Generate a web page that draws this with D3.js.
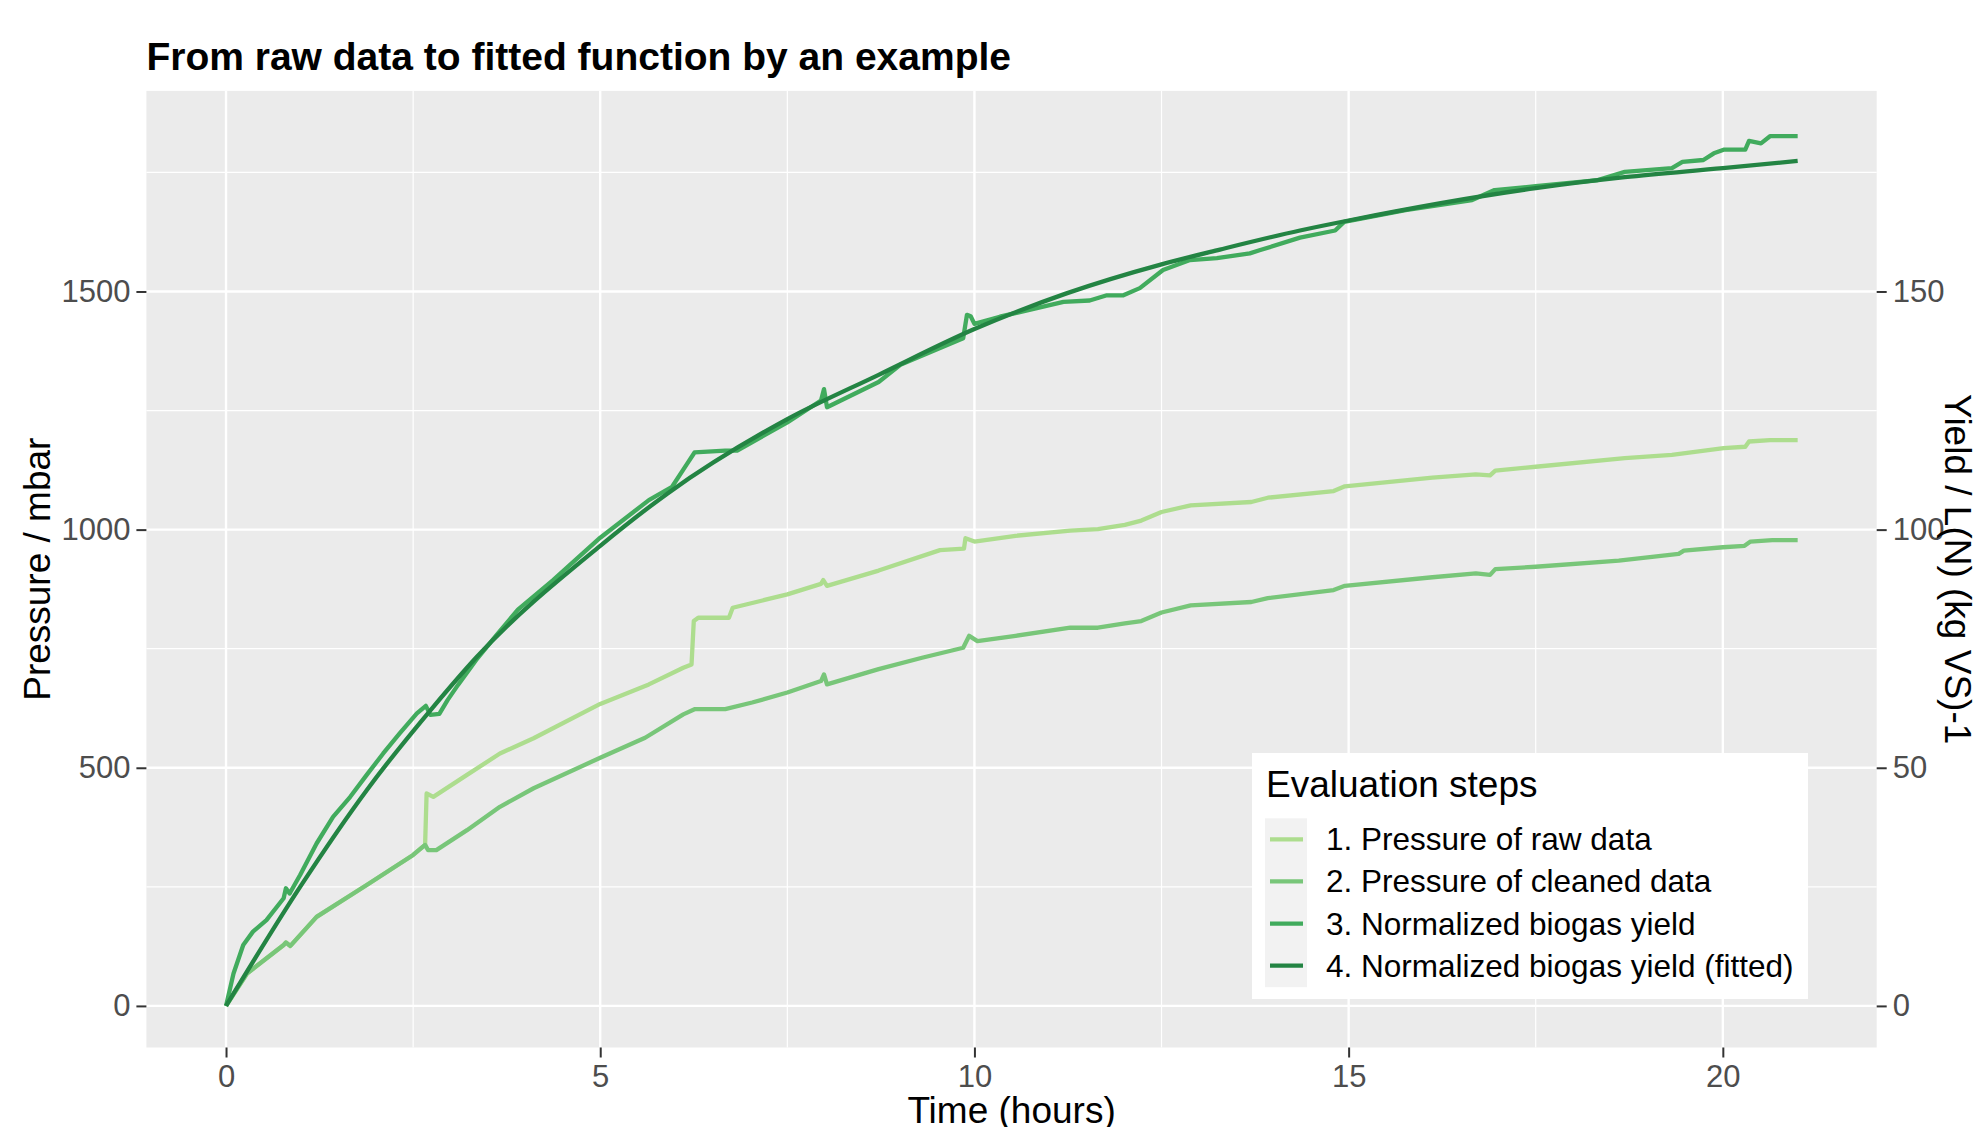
<!DOCTYPE html>
<html>
<head>
<meta charset="utf-8">
<script src="https://cdn.jsdelivr.net/npm/d3@7"></script>
<style>
  body { margin: 0; background: #fff; }
  text { font-family: "Liberation Sans", Arial, sans-serif; }
</style>
</head>
<body>
<script>
// values
var seriesNames = ["1. Pressure of raw data", "2. Pressure of cleaned data",
                   "3. Normalized biogas yield", "4. Normalized biogas yield (fitted)"];
var seriesColors = ["#ADDD8E", "#78C679", "#41AB5D", "#238443"];

var timeTicks = [0, 5, 10, 15, 20];
var pressureTicks = [0, 500, 1000, 1500];
var yieldTicks = [0, 50, 100, 150];

// 1. raw pressure (mbar)
var rawTime = [0,0.28,0.77,0.8,0.86,1.21,1.88,2.5,2.66,2.68,2.77,3.22,3.66,4.11,5.0,5.65,6.11,6.22,6.25,6.31,6.72,6.77,7.5,7.95,7.98,8.03,8.72,9.54,9.86,9.88,10.0,10.55,11.28,11.65,12.01,12.23,12.5,12.89,13.7,13.92,14.8,14.95,16.12,16.7,16.89,16.96,17.5,18.69,19.32,20.01,20.3,20.35,20.63,21.0];
var rawPressure = [0,68,128,133,126,187,254,317,338,446,439,485,530,562,634,675,710,717,808,815,815,836,864,886,894,882,914,957,960,982,975,987,998,1001,1010,1019,1037,1051,1058,1067,1081,1091,1109,1116,1114,1124,1132,1150,1157,1171,1174,1185,1188,1188];

// 2. cleaned pressure (mbar)
var cleanTime = [0,0.28,0.77,0.8,0.86,1.21,1.88,2.5,2.66,2.7,2.81,3.22,3.66,4.11,5.0,5.6,6.11,6.26,6.67,7.03,7.5,7.95,7.99,8.03,8.72,9.3,9.85,9.93,10.04,10.55,11.28,11.65,12.01,12.23,12.5,12.89,13.7,13.92,14.8,14.95,16.12,16.7,16.89,16.96,17.5,18.61,19.41,19.48,20.0,20.29,20.37,20.66,21.0];
var cleanPressure = [0,68,128,133,126,187,254,317,338,327,327,369,418,457,521,563,612,623,623,637,658,682,696,675,707,731,752,777,766,777,794,794,803,808,826,841,848,856,873,882,900,908,905,917,922,935,949,956,963,966,975,978,978];

// 3. normalized yield (L(N) per kg VS)
var yieldTime = [0,0.1,0.23,0.36,0.54,0.77,0.8,0.85,0.99,1.21,1.43,1.66,1.88,2.1,2.32,2.55,2.67,2.73,2.85,2.96,3.1,3.34,3.6,3.9,4.37,5.0,5.65,5.96,6.16,6.26,6.67,6.83,7.5,7.95,7.99,8.03,8.72,9.01,9.85,9.9,9.95,10.0,10.34,11.19,11.54,11.77,11.99,12.21,12.52,12.88,13.24,13.68,13.82,14.35,14.82,14.94,15.76,16.65,16.95,17.5,18.33,18.69,19.32,19.46,19.74,19.88,20.02,20.3,20.35,20.51,20.63,21.0];
var yieldValue = [0,6.8,12.8,15.6,18.0,22.6,24.7,23.6,27.5,34.1,39.7,43.9,48.5,53.0,57.2,61.4,63.0,61.1,61.3,64.2,67.4,72.6,77.6,83.2,89.4,98.3,106.2,109.0,113.8,116.2,116.6,116.6,122.5,127.1,129.5,125.7,131.0,134.6,140.2,145.1,144.8,143.2,144.7,147.8,148.1,149.2,149.2,150.7,154.5,156.6,157.0,158.0,158.7,161.3,162.8,164.6,167.1,169.2,171.3,172.1,173.4,175.1,175.9,177.2,177.6,179.0,179.8,179.8,181.6,181.1,182.6,182.6];

// 4. fitted yield
var fitTime = [0,0.99,1.88,2.77,3.34,5.0,5.9,7.5,8.72,10,11.23,12.5,13.28,14.35,15,17.5,18.69,20,21];
var fitValue = [0,25.0,45.3,62.8,73.1,96.6,107.6,123.2,132.5,142.1,149.6,155.7,158.8,162.8,164.9,171.7,174.0,175.9,177.4];

var W = 1979, H = 1127;
var panel = {left: 146.4, right: 1876.7, top: 90.9, bottom: 1047.5};

var svg = d3.select("body").append("svg")
    .attr("width", W)
    .attr("height", H);

var x = d3.scaleLinear().domain([-1.064, 22.056]).range([panel.left, panel.right]);
var y = d3.scaleLinear().domain([-87.3, 1921.1]).range([panel.bottom, panel.top]);
var yR = d3.scaleLinear().domain([-8.73, 192.11]).range([panel.bottom, panel.top]);

// panel + grid
svg.append("rect")
    .attr("x", panel.left).attr("y", panel.top)
    .attr("width", panel.right - panel.left)
    .attr("height", panel.bottom - panel.top)
    .attr("fill", "#EBEBEB");

var grid = svg.append("g");
var xMinor = [2.5, 7.5, 12.5, 17.5], yMinor = [250, 750, 1250, 1750];

grid.selectAll(".xminor").data(xMinor).enter().append("line")
    .attr("x1", d => x(d)).attr("x2", d => x(d))
    .attr("y1", panel.top).attr("y2", panel.bottom)
    .attr("stroke", "#fff").attr("stroke-width", 1.2);
grid.selectAll(".yminor").data(yMinor).enter().append("line")
    .attr("y1", d => y(d)).attr("y2", d => y(d))
    .attr("x1", panel.left).attr("x2", panel.right)
    .attr("stroke", "#fff").attr("stroke-width", 1.2);
grid.selectAll(".xmajor").data(timeTicks).enter().append("line")
    .attr("x1", d => x(d)).attr("x2", d => x(d))
    .attr("y1", panel.top).attr("y2", panel.bottom)
    .attr("stroke", "#fff").attr("stroke-width", 2.4);
grid.selectAll(".ymajor").data(pressureTicks).enter().append("line")
    .attr("y1", d => y(d)).attr("y2", d => y(d))
    .attr("x1", panel.left).attr("x2", panel.right)
    .attr("stroke", "#fff").attr("stroke-width", 2.4);

// lines
function zip(ts, vs) {
    return ts.map(function(t, i) { return {t: t, v: vs[i]}; });
}
var lineP = d3.line().x(d => x(d.t)).y(d => y(d.v));
var lineY = d3.line().x(d => x(d.t)).y(d => yR(d.v));
var lineFit = d3.line().x(d => x(d.t)).y(d => yR(d.v)).curve(d3.curveMonotoneX);

var series = [
    {path: lineP(zip(rawTime, rawPressure))},
    {path: lineP(zip(cleanTime, cleanPressure))},
    {path: lineY(zip(yieldTime, yieldValue))},
    {path: lineFit(zip(fitTime, fitValue))}
];

svg.append("g").selectAll("path").data(series).enter().append("path")
    .attr("d", d => d.path)
    .attr("fill", "none")
    .attr("stroke", (d, i) => seriesColors[i])
    .attr("stroke-width", 4.3)
    .attr("stroke-linejoin", "round");

// axes
function styleAxis(g) {
    g.select(".domain").remove();
    g.selectAll(".tick line").attr("stroke", "#333333").attr("stroke-width", 2);
    g.selectAll(".tick text")
        .attr("fill", "#4D4D4D")
        .style("font-size", "31px")
        .style("font-family", '"Liberation Sans", Arial, sans-serif');
}
var fmt = d3.format("d");

svg.append("g")
    .attr("transform", "translate(" + panel.left + ",0)")
    .call(d3.axisLeft(y).tickValues(pressureTicks).tickFormat(fmt).tickSize(10).tickPadding(6))
    .call(styleAxis);

svg.append("g")
    .attr("transform", "translate(" + panel.right + ",0)")
    .call(d3.axisRight(yR).tickValues(yieldTicks).tickFormat(fmt).tickSize(10).tickPadding(6))
    .call(styleAxis);

svg.append("g")
    .attr("transform", "translate(0," + panel.bottom + ")")
    .call(d3.axisBottom(x).tickValues(timeTicks).tickFormat(fmt).tickSize(10).tickPadding(7))
    .call(styleAxis);

// titles
svg.append("text")
    .attr("x", panel.left).attr("y", 70)
    .attr("font-size", 39).attr("font-weight", "bold")
    .text("From raw data to fitted function by an example");

svg.append("text")
    .attr("x", (panel.left + panel.right) / 2).attr("y", 1123)
    .attr("text-anchor", "middle").attr("font-size", 37)
    .text("Time (hours)");

svg.append("text")
    .attr("transform", "translate(50," + (panel.top + panel.bottom) / 2 + ") rotate(-90)")
    .attr("text-anchor", "middle").attr("font-size", 37)
    .text("Pressure / mbar");

svg.append("text")
    .attr("transform", "translate(1945," + (panel.top + panel.bottom) / 2 + ") rotate(90)")
    .attr("text-anchor", "middle").attr("font-size", 37)
    .text("Yield / L(N) (kg VS)-1");

// legend
var legend = svg.append("g");
legend.append("rect")
    .attr("x", 1252).attr("y", 753)
    .attr("width", 556).attr("height", 246)
    .attr("fill", "#fff");
legend.append("text")
    .attr("x", 1266).attr("y", 797)
    .attr("font-size", 37)
    .text("Evaluation steps");

var rowH = 42.1, row0 = 818.3;
var rows = legend.selectAll(".row").data(seriesNames).enter().append("g")
    .attr("transform", (d, i) => "translate(0," + (row0 + i * rowH) + ")");
rows.append("rect")
    .attr("x", 1265).attr("y", 0)
    .attr("width", 42).attr("height", rowH + 0.5)
    .attr("fill", "#F2F2F2");
rows.append("line")
    .attr("x1", 1270).attr("x2", 1303)
    .attr("y1", rowH / 2).attr("y2", rowH / 2)
    .attr("stroke", (d, i) => seriesColors[i])
    .attr("stroke-width", 4.3);
rows.append("text")
    .attr("x", 1326).attr("y", rowH / 2 + 11)
    .attr("font-size", 31.5)
    .text(d => d);
</script>
</body>
</html>
